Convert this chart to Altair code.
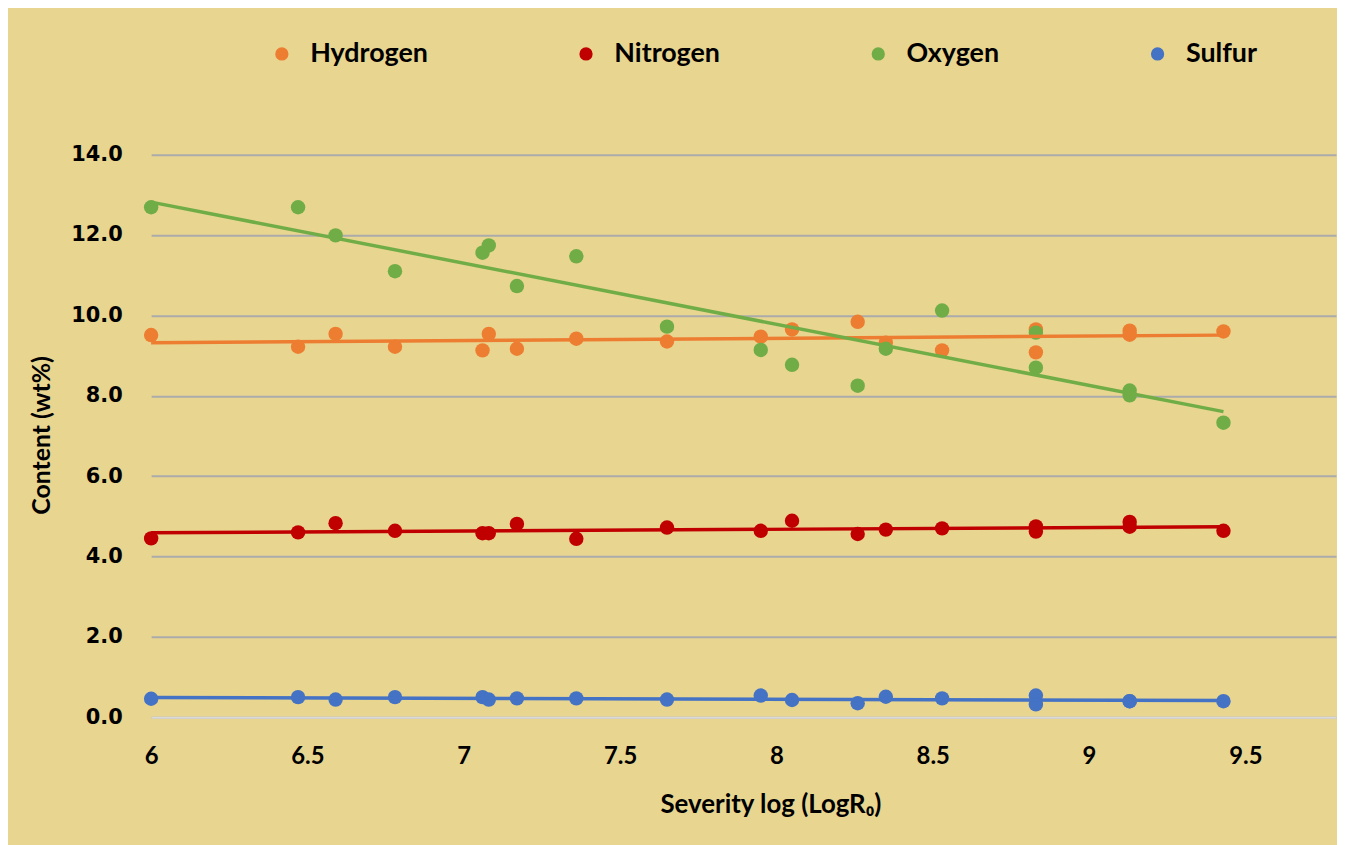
import altair as alt
import pandas as pd

elements = ["Hydrogen", "Nitrogen", "Oxygen", "Sulfur"]
colors = ["#ED7D31", "#C00000", "#70AD47", "#4472C4"]

severity = [6.00, 6.47, 6.59, 6.78, 7.06, 7.08, 7.17, 7.36, 7.65, 7.95,
            8.05, 8.26, 8.35, 8.53, 8.83, 8.83, 9.13, 9.13, 9.43]

hydrogen = [9.51, 9.22, 9.54, 9.22, 9.13, 9.54, 9.17, 9.42, 9.35, 9.47,
            9.65, 9.84, 9.32, 9.13, 9.65, 9.08, 9.62, 9.52, 9.60]
nitrogen = [4.45, 4.60, 4.83, 4.64, 4.58, 4.58, 4.81, 4.44, 4.72, 4.64,
            4.89, 4.56, 4.67, 4.70, 4.75, 4.62, 4.86, 4.74, 4.64]
oxygen = [12.69, 12.69, 11.99, 11.10, 11.56, 11.74, 10.73, 11.47, 9.72, 9.14,
          8.77, 8.25, 9.17, 10.12, 9.57, 8.70, 8.13, 8.01, 7.33]
sulfur = [0.46, 0.50, 0.44, 0.50, 0.50, 0.44, 0.47, 0.47, 0.44, 0.54,
          0.43, 0.35, 0.51, 0.47, 0.54, 0.32, 0.40, 0.40, 0.40]

x_ticks = [6, 6.5, 7, 7.5, 8, 8.5, 9, 9.5]
y_ticks = [0, 2, 4, 6, 8, 10, 12, 14]

rows = []
for name, vals in zip(elements, [hydrogen, nitrogen, oxygen, sulfur]):
    for xv, yv in zip(severity, vals):
        rows.append({"element": name, "x": xv, "y": yv})
df = pd.DataFrame(rows)

FONT = "Lato"

color = alt.Color(
    "element:N",
    scale=alt.Scale(domain=elements, range=colors),
    legend=alt.Legend(
        title=None, orient="none", direction="horizontal", columns=4,
        legendX=118, legendY=-115, columnPadding=145, symbolType="circle",
        symbolSize=140, symbolOpacity=1, labelFont=FONT,
        labelFontSize=27, labelFontWeight="bold", labelColor="#000000",
        labelOffset=15, padding=0,
    ),
)

xenc = alt.X(
    "x:Q",
    scale=alt.Scale(domain=[6, 9.79], nice=False, zero=False),
    axis=alt.Axis(
        values=x_ticks, format=".1~f", title="Severity log (LogR₀)", grid=False,
        domain=True, domainColor="#D9D9D9", domainWidth=2, ticks=False,
        labelFont=FONT, labelFontSize=24, labelFontWeight="bold",
        labelColor="#000000", labelPadding=28, labelFlush=False,
        titleFont=FONT, titleFontSize=26, titleFontWeight="bold",
        titleColor="#000000", titleX=623, titleY=88, titleAlign="center",
        titleBaseline="middle", titleAnchor="start",
    ),
)
yenc = alt.Y(
    "y:Q",
    scale=alt.Scale(domain=[0, 14], nice=False),
    axis=alt.Axis(
        values=y_ticks, format=".1f", title="Content (wt%)", grid=True,
        gridColor="#ABABAB", gridWidth=2, domain=False, ticks=False,
        labelFont="DejaVu Sans", labelFontSize=21, labelFontWeight="bold",
        labelColor="#000000", labelPadding=29,
        titleFont=FONT, titleFontSize=25, titleFontWeight="bold",
        titleColor="#000000", titleX=-110, titleY=282, titleAlign="center",
        titleBaseline="middle", titleAnchor="start", titleAngle=-90,
    ),
)

points = alt.Chart(df).mark_circle(size=210, opacity=1).encode(
    x=xenc, y=yenc, color=color
)

lines = alt.Chart(df).transform_regression(
    "x", "y", groupby=["element"]
).mark_line(strokeWidth=3.5).encode(
    x="x:Q", y="y:Q",
    color=alt.Color("element:N", scale=alt.Scale(domain=elements, range=colors), legend=None),
)

chart = alt.layer(points, lines).properties(
    width=1192, height=566,
    background="#E8D590",
    autosize=alt.AutoSizeParams(type="none"),
    padding={"left": 144, "top": 145, "right": 1, "bottom": 126},
).configure_view(stroke=None)

chart.save("out.html", embed_options={"renderer": "svg", "actions": False})
